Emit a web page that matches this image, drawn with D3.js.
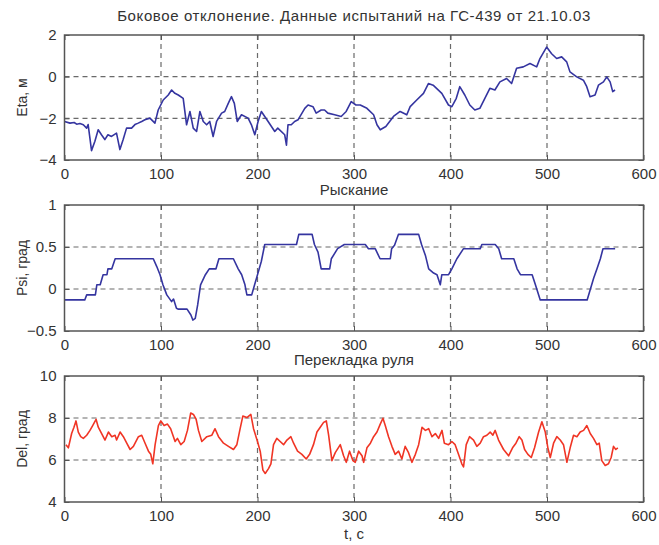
<!DOCTYPE html>
<html>
<head>
<meta charset="utf-8">
<script src="https://cdn.jsdelivr.net/npm/d3@7"></script>
<style>
  body { margin: 0; background: #fff; }
  text { font-family: "Liberation Sans", Arial, sans-serif; fill: #333; }
</style>
</head>
<body>
<svg id="chart"></svg>
<script>
// time axis ticks (seconds)
const xTicks = [0, 100, 200, 300, 400, 500, 600];

// Eta, m  (lateral deviation)  [t, value]
const etaData = [
  [0,-2.15],[5.7,-2.23],[10,-2.2],[12.6,-2.28],[16,-2.25],[19.5,-2.31],[22.9,-2.47],[24.5,-2.3],
  [26.3,-2.94],[28,-3.55],[31.5,-3.1],[34.9,-2.55],[38.3,-2.79],[41.8,-3.02],[45,-2.79],[48.7,-2.87],
  [53.9,-2.71],[57.4,-3.5],[60.8,-3.02],[64.3,-2.47],[69.5,-2.47],[73,-2.3],[76.4,-2.23],[80,-2.15],
  [83.3,-2.07],[88.5,-1.99],[93.7,-2.23],[97.1,-1.6],[102.3,-1.12],[107.5,-0.88],[111,-0.64],[114.4,-0.8],
  [117.9,-0.88],[123,-1.04],[126.5,-2.31],[130,-1.67],[133.4,-2.47],[136.9,-2.63],[140.3,-1.67],[143.8,-2.15],
  [147.3,-2.31],[150.5,-2.15],[154,-2.87],[157.6,-2.15],[162.8,-1.75],[166,-1.67],[169.7,-1.28],[173,-0.96],
  [176,-1.28],[179,-2.15],[183.4,-1.83],[190.3,-1.99],[193.7,-2.31],[197.2,-2.79],[200.6,-2.15],[204,-1.67],
  [211,-2.15],[217.9,-2.63],[221,-2.47],[228.2,-2.79],[230,-3.29],[231.6,-2.31],[235,-2.31],[238.5,-2.15],
  [242,-2.07],[249,-1.52],[252.4,-1.36],[257.5,-1.44],[260.8,-1.75],[266,-1.6],[269.5,-1.6],[272.9,-1.75],
  [280,-1.83],[286.7,-1.91],[291.9,-1.67],[297.1,-1.2],[302,-1.36],[306.5,-1.36],[313.4,-1.52],[320.3,-1.83],
  [323.8,-2.31],[327.2,-2.55],[333,-2.39],[340.9,-1.91],[347.8,-1.67],[354.7,-1.83],[358.2,-1.44],[365,-1.12],
  [372,-0.8],[377.1,-0.33],[382,-0.41],[391,-0.8],[397.9,-1.36],[401.4,-1.44],[406,-1.04],[409.6,-0.48],
  [414.8,-0.88],[420,-1.36],[425.2,-1.6],[430.4,-1.52],[435.6,-1.04],[440.8,-0.56],[446,-0.64],[451.2,-0.25],
  [458.1,-0.09],[463.3,-0.33],[468.5,0.4],[475.4,0.47],[482.4,0.63],[489.3,0.47],[492.7,0.87],[499.6,1.42],
  [504.8,1.1],[510,0.87],[515.2,0.95],[520.4,0.71],[523.8,0.23],[530.8,-0.01],[537.7,-0.17],[541.2,-0.48],
  [544.6,-0.96],[549.8,-0.88],[553.3,-0.41],[558.5,-0.25],[561.9,-0.01],[565.4,-0.25],[568.1,-0.72],[570.5,-0.64]
];

// Psi, deg  (yaw)
const psiData = [
  [0,-0.13],[21,-0.13],[23,-0.07],[32,-0.07],[33.5,0.05],[37,0.05],[40,0.17],[44,0.17],[45,0.24],[49,0.24],
  [52.5,0.36],[92,0.36],[95.5,0.27],[99,0.17],[102,0.05],[106,-0.07],[111,-0.15],[113,-0.12],[116,-0.23],
  [118,-0.24],[127,-0.24],[131,-0.31],[133,-0.37],[135.5,-0.35],[138,-0.19],[141,0.05],[146,0.17],[150,0.24],
  [157,0.24],[160,0.36],[175,0.36],[180,0.24],[183.6,0.17],[187,0.05],[189,-0.07],[194,-0.07],[197,0.05],
  [200,0.17],[204,0.33],[207.5,0.53],[240.4,0.53],[242.8,0.65],[256.6,0.65],[259,0.53],[262.7,0.44],
  [266,0.24],[274.8,0.24],[276.5,0.36],[283,0.48],[290,0.53],[311.7,0.53],[315,0.48],[322,0.48],[327,0.36],
  [337.6,0.36],[339,0.48],[342,0.52],[346,0.65],[367,0.65],[370,0.53],[374,0.4],[377.4,0.24],[382.5,0.19],
  [386,0.17],[389.4,0.05],[391,0.17],[398,0.17],[401.4,0.24],[406.6,0.36],[413.5,0.48],[430.8,0.48],
  [432.5,0.53],[446.3,0.53],[450,0.48],[453,0.36],[465.6,0.36],[469,0.24],[472.5,0.17],[484.6,0.17],
  [488,0.05],[493,-0.13],[541.6,-0.13],[545,0],[548.4,0.13],[551.8,0.24],[555.3,0.36],[558,0.48],[570.6,0.48]
];

// Del, deg  (rudder)
const delData = [
  [1.5,6.73],[4,6.58],[7.4,7.26],[9.8,7.56],[11.9,7.86],[14.3,7.33],[16.8,7.11],[19.5,7.03],[23,7.18],
  [26.4,7.41],[29.2,7.64],[32.7,7.94],[35,7.56],[38.5,7.26],[42,6.95],[45.5,7.33],[49,7.11],[52.4,7.18],
  [54,6.95],[57.6,7.33],[61,7.11],[64.5,6.8],[68,6.5],[71.4,6.65],[76.6,7.11],[80,7.18],[83.5,6.8],[87,6.42],
  [89.4,6.27],[91.5,5.82],[93.9,6.73],[97.3,7.64],[99.8,7.86],[103.2,7.64],[106.7,7.71],[110,7.49],[114.6,6.88],
  [117,7.03],[120.5,6.73],[124,6.88],[127.4,7.41],[130.8,8.24],[133.6,8.17],[136.4,7.94],[138.8,7.41],
  [142.3,6.88],[147.5,7.11],[152.7,7.18],[156,7.49],[159.6,7.11],[164.8,6.8],[169.9,6.65],[175.1,6.5],
  [178.6,6.73],[182,7.49],[184.8,8.09],[189,8.02],[193.1,8.17],[195.9,7.49],[200,6.88],[202.8,6.42],
  [205.6,5.52],[208,5.36],[211.4,5.59],[213.9,5.82],[216.6,6.73],[220,7.03],[223.5,6.88],[227,6.73],
  [230.5,6.95],[234.6,7.11],[237.4,6.8],[241.5,6.42],[246,6.27],[250.5,6.05],[254,6.27],[258,6.73],
  [261.6,7.33],[265,7.56],[268.5,7.79],[271.3,7.86],[273.7,7.18],[277.1,5.97],[280.6,6.35],[285.8,6.73],
  [289.2,6.2],[292,5.89],[295.4,6.42],[298.9,5.97],[301.3,5.89],[304.8,6.42],[308.3,6.2],[310,5.89],
  [313.4,6.58],[317,6.8],[320.3,7.11],[323.8,7.33],[327.2,7.71],[330,7.99],[332.4,7.64],[335.8,7.11],
  [339.3,6.65],[342.7,6.27],[346.2,6.42],[349.6,6.05],[353,6.65],[356.5,6.35],[360,5.89],[363.6,6.27],
  [367,6.73],[370.5,7.56],[374,7.41],[377.4,7.49],[380.8,7.11],[384.3,7.26],[387.7,7.03],[391.2,7.41],
  [393.6,6.8],[398,6.73],[401.4,6.88],[404.8,6.73],[408.3,6.27],[411.7,5.82],[413.5,5.67],[416.3,6.73],
  [419.7,7.11],[423.9,6.95],[427.3,6.65],[430.8,6.8],[434.2,7.11],[437.7,7.18],[441.1,7.33],[443.9,7.18],
  [446.3,7.41],[449.8,6.95],[455,6.5],[460.2,6.2],[464.3,6.58],[467.8,6.8],[471.2,7.11],[474,6.95],
  [476.8,6.5],[480.2,6.27],[483.7,6.12],[487.1,6.58],[491.3,7.33],[494.7,7.82],[498.2,7.33],[500.9,6.58],
  [503.4,6.12],[506.8,6.8],[510.2,7.11],[513.7,6.95],[517.1,6.73],[520.6,5.89],[524,6.58],[527.5,7.18],
  [531,7.11],[534.4,7.33],[537.9,7.41],[541.3,7.64],[544.8,7.26],[548.2,7.03],[551.7,6.73],[554.1,6.8],
  [556.8,5.97],[560.3,5.74],[563.7,5.82],[566.5,6.12],[568.9,6.65],[571.3,6.5],[573.4,6.58]
];

const etaTicks = [-4, -2, 0, 2];
const psiTicks = [-0.5, 0, 0.5, 1];
const delTicks = [4, 6, 8, 10];

const panels = [
  { title: 'Боковое отклонение. Данные испытаний на ГС-439 от 21.10.03', ylabel: 'Eta, м',
    data: etaData, ticks: etaTicks, color: '#3535a0', top: 35, bottom: 160, titleY: 20.5, spacing: 0.6 },
  { title: 'Рыскание', ylabel: 'Psi, град',
    data: psiData, ticks: psiTicks, color: '#3535a0', top: 205, bottom: 331, titleY: 195, spacing: 0 },
  { title: 'Перекладка руля', ylabel: 'Del, град',
    data: delData, ticks: delTicks, color: '#f03525', top: 376, bottom: 502, titleY: 365, spacing: 0 }
];

const width = 659, height = 545;
const left = 64.5, right = 643.5;

const svg = d3.select('#chart')
    .attr('width', width)
    .attr('height', height);

const x = d3.scaleLinear().domain([0, 600]).range([left, right]);

panels.forEach(p => {
    const y = d3.scaleLinear().domain(d3.extent(p.ticks)).range([p.bottom, p.top]);
    const g = svg.append('g');

    // dashed grid
    g.selectAll('.vg').data(xTicks.slice(1, -1)).enter().append('line')
        .attr('x1', d => x(d)).attr('x2', d => x(d))
        .attr('y1', p.top).attr('y2', p.bottom)
        .attr('stroke', '#6a6a6a').attr('stroke-width', 1.2)
        .attr('stroke-dasharray', '5,4');
    g.selectAll('.hg').data(p.ticks.slice(1, -1)).enter().append('line')
        .attr('x1', left).attr('x2', right)
        .attr('y1', d => y(d)).attr('y2', d => y(d))
        .attr('stroke', '#6a6a6a').attr('stroke-width', 1.2)
        .attr('stroke-dasharray', '5,4');

    // series
    const line = d3.line().x(d => x(d[0])).y(d => y(d[1]));
    g.append('path')
        .datum(p.data)
        .attr('d', line)
        .attr('fill', 'none')
        .attr('stroke', p.color)
        .attr('stroke-width', 1.6)
        .attr('stroke-linejoin', 'round');

    // axes with inward ticks
    const axB = d3.axisBottom(x).tickValues(xTicks).tickSizeInner(-5).tickSizeOuter(0).tickPadding(8);
    const axT = d3.axisTop(x).tickValues(xTicks).tickSizeInner(-5).tickSizeOuter(0).tickFormat('');
    const axL = d3.axisLeft(y).tickValues(p.ticks).tickSizeInner(-5).tickSizeOuter(0).tickPadding(8)
        .tickFormat(d3.format('~g'));
    const axR = d3.axisRight(y).tickValues(p.ticks).tickSizeInner(-5).tickSizeOuter(0).tickFormat('');

    [[axB, `translate(0,${p.bottom})`], [axT, `translate(0,${p.top})`],
     [axL, `translate(${left},0)`], [axR, `translate(${right},0)`]].forEach(([ax, tr]) => {
        const a = g.append('g').attr('transform', tr).call(ax);
        a.select('.domain').remove();
        a.selectAll('line').attr('stroke', '#555');
        a.selectAll('text').attr('font-size', 15).attr('fill', '#333')
            .style('font-family', '"Liberation Sans", Arial, sans-serif');
    });

    // frame
    g.append('rect')
        .attr('x', left).attr('y', p.top)
        .attr('width', right - left).attr('height', p.bottom - p.top)
        .attr('fill', 'none').attr('stroke', '#555').attr('stroke-width', 1.5);

    g.append('text')
        .attr('x', (left + right) / 2).attr('y', p.titleY)
        .attr('text-anchor', 'middle').attr('font-size', 15)
        .attr('letter-spacing', p.spacing)
        .text(p.title);

    g.append('text')
        .attr('transform', `translate(27,${(p.top + p.bottom) / 2}) rotate(-90)`)
        .attr('text-anchor', 'middle').attr('font-size', 14)
        .text(p.ylabel);
});

svg.append('text')
    .attr('x', (left + right) / 2).attr('y', 539)
    .attr('text-anchor', 'middle').attr('font-size', 15)
    .text('t, c');
</script>
</body>
</html>
